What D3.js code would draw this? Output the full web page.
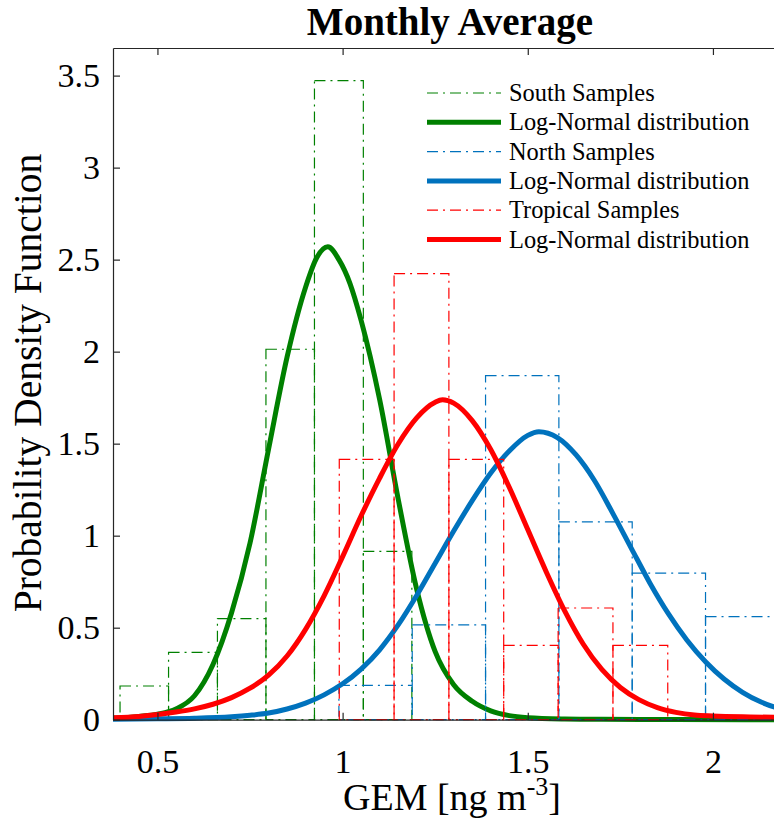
<!DOCTYPE html>
<html>
<head>
<meta charset="utf-8">
<script src="https://cdn.jsdelivr.net/npm/d3@7"></script>
<style>
body { margin: 0; background: #fff; }
svg text { font-family: "Liberation Serif", "Times New Roman", serif; fill: #000; }
</style>
</head>
<body>
<div id="chart"></div>
<script>
// histogram bin edges [ng m-3] and densities
var southEdges = [0.399, 0.530, 0.662, 0.793, 0.924, 1.056, 1.187];
var southDensity = [0.183, 0.366, 0.549, 2.013, 3.473, 0.915];
var northEdges = [0.990, 1.188, 1.386, 1.584, 1.782, 1.980, 2.178];
var northDensity = [0.187, 0.515, 1.870, 1.075, 0.796, 0.560];
var tropicalEdges = [0.991, 1.139, 1.287, 1.435, 1.582, 1.730, 1.878];
var tropicalDensity = [1.415, 2.424, 1.415, 0.404, 0.607, 0.404];

// fitted log-normal curves
var southFitX = [0.38, 0.45, 0.50, 0.55, 0.60, 0.65, 0.70, 0.75, 0.80, 0.85, 0.90, 0.93, 0.96, 0.99, 1.02, 1.05, 1.10, 1.15, 1.20, 1.25, 1.30, 1.35, 1.40, 1.45, 1.50, 1.60, 1.70, 1.90, 2.20];
var southFitY = [0.008, 0.018, 0.03, 0.058, 0.13, 0.30, 0.58, 0.96, 1.47, 1.97, 2.35, 2.51, 2.57, 2.50, 2.37, 2.17, 1.74, 1.20, 0.71, 0.37, 0.19, 0.10, 0.048, 0.022, 0.011, 0.004, 0.002, 0.001, 0];
var northFitX = [0.38, 0.50, 0.60, 0.70, 0.75, 0.80, 0.85, 0.90, 0.95, 1.00, 1.05, 1.10, 1.15, 1.20, 1.25, 1.30, 1.35, 1.40, 1.45, 1.50, 1.53, 1.58, 1.63, 1.68, 1.73, 1.78, 1.83, 1.88, 1.93, 1.98, 2.03, 2.08, 2.13, 2.18, 2.20];
var northFitY = [0.003, 0.005, 0.008, 0.016, 0.024, 0.036, 0.058, 0.09, 0.135, 0.195, 0.275, 0.38, 0.515, 0.675, 0.85, 1.025, 1.19, 1.34, 1.46, 1.545, 1.565, 1.533, 1.44, 1.30, 1.12, 0.93, 0.742, 0.575, 0.432, 0.315, 0.221, 0.149, 0.096, 0.06, 0.05];
var tropicalFitX = [0.38, 0.45, 0.50, 0.55, 0.60, 0.65, 0.70, 0.75, 0.80, 0.85, 0.90, 0.95, 1.00, 1.05, 1.10, 1.15, 1.20, 1.25, 1.27, 1.30, 1.35, 1.40, 1.45, 1.50, 1.55, 1.60, 1.65, 1.70, 1.75, 1.80, 1.85, 1.90, 1.95, 2.00, 2.10, 2.20];
var tropicalFitY = [0.01, 0.018, 0.028, 0.0415, 0.059, 0.084, 0.12, 0.171, 0.242, 0.346, 0.491, 0.673, 0.886, 1.108, 1.313, 1.498, 1.64, 1.725, 1.738, 1.72, 1.625, 1.468, 1.263, 1.033, 0.803, 0.59, 0.41, 0.273, 0.175, 0.109, 0.066, 0.04, 0.025, 0.02, 0.015, 0.012];

var xTicks = [0.5, 1, 1.5, 2];
var yTicks = [0, 0.5, 1, 1.5, 2, 2.5, 3, 3.5];
var legendLabels = ["South Samples", "Log-Normal distribution", "North Samples", "Log-Normal distribution", "Tropical Samples", "Log-Normal distribution"];

var svg = d3.select("#chart").append("svg")
	.attr("width", 774)
	.attr("height", 834);

var x = d3.scaleLinear().domain([0.38, 2.2]).range([113, 787]);
var y = d3.scaleLinear().domain([0, 3.65]).range([719.7, 48]);

svg.append("defs").append("clipPath").attr("id", "plotclip")
	.append("rect").attr("x", 113).attr("y", 40).attr("width", 674).attr("height", 690);

var plot = svg.append("g").attr("clip-path", "url(#plotclip)");

var series = [
	{edges: southEdges, dens: southDensity, fx: southFitX, fy: southFitY, color: "#008000"},
	{edges: northEdges, dens: northDensity, fx: northFitX, fy: northFitY, color: "#0072bd"},
	{edges: tropicalEdges, dens: tropicalDensity, fx: tropicalFitX, fy: tropicalFitY, color: "#ff0000"}
];

var line = d3.line()
	.x(function(d) { return x(d[0]); })
	.y(function(d) { return y(d[1]); })
	.curve(d3.curveMonotoneX);

series.forEach(function(s) {
	var bins = s.dens.map(function(v, i) { return {x0: s.edges[i], x1: s.edges[i + 1], v: v}; });
	plot.selectAll(null).data(bins).enter().append("rect")
		.attr("x", function(d) { return x(d.x0); })
		.attr("width", function(d) { return x(d.x1) - x(d.x0); })
		.attr("y", function(d) { return y(d.v); })
		.attr("height", function(d) { return y(0) - y(d.v); })
		.attr("fill", "none")
		.attr("stroke", s.color)
		.attr("stroke-width", 1.2)
		.attr("stroke-dasharray", "11,5,2,5");
	plot.append("path")
		.datum(d3.zip(s.fx, s.fy))
		.attr("d", line)
		.attr("fill", "none")
		.attr("stroke", s.color)
		.attr("stroke-width", 5);
});

// axes, MATLAB style ticks pointing inwards
var xAxis = svg.append("g").attr("transform", "translate(0," + y(0) + ")")
	.call(d3.axisBottom(x).tickValues(xTicks).tickFormat(d3.format("")).tickSizeInner(-7).tickSizeOuter(0).tickPadding(29));
var yAxis = svg.append("g").attr("transform", "translate(" + x(0.38) + ",0)")
	.call(d3.axisLeft(y).tickValues(yTicks).tickFormat(d3.format("")).tickSizeInner(-7).tickSizeOuter(0).tickPadding(13));
var topAxis = svg.append("g").attr("transform", "translate(0," + y(3.65) + ")")
	.call(d3.axisTop(x).tickValues(xTicks).tickFormat("").tickSizeInner(-7).tickSizeOuter(0));

[xAxis, yAxis, topAxis].forEach(function(a) {
	a.selectAll("path, line").attr("stroke", "#262626").attr("stroke-width", 1.2);
	a.selectAll("text").style("font-size", "34px").style("font-family", "Liberation Serif, serif").attr("fill", "#000");
});

svg.append("text")
	.attr("x", 450)
	.attr("y", 35)
	.style("text-anchor", "middle")
	.style("font-weight", "bold")
	.style("font-size", "39px")
	.text("Monthly Average");

var xl = svg.append("text")
	.attr("x", 452)
	.attr("y", 810)
	.style("text-anchor", "middle")
	.style("font-size", "38px")
	.text("GEM [ng m");
xl.append("tspan").attr("dy", -15).style("font-size", "26px").text("-3");
xl.append("tspan").attr("dy", 15).text("]");

svg.append("text")
	.attr("transform", "translate(41,383) rotate(-90)")
	.style("text-anchor", "middle")
	.style("font-size", "39.5px")
	.text("Probability Density Function");

// legend
var legend = svg.append("g");
legendLabels.forEach(function(lbl, i) {
	var s = series[Math.floor(i / 2)];
	var ly = 93 + i * 29.3;
	legend.append("line")
		.attr("x1", 427).attr("x2", 501)
		.attr("y1", ly).attr("y2", ly)
		.attr("stroke", s.color)
		.attr("stroke-width", i % 2 ? 5 : 1.2)
		.attr("stroke-dasharray", i % 2 ? null : "11,5,2,5");
	legend.append("text")
		.attr("x", 509)
		.attr("y", ly + 8)
		.style("font-size", "24.4px")
		.text(lbl);
});
</script>
</body>
</html>
